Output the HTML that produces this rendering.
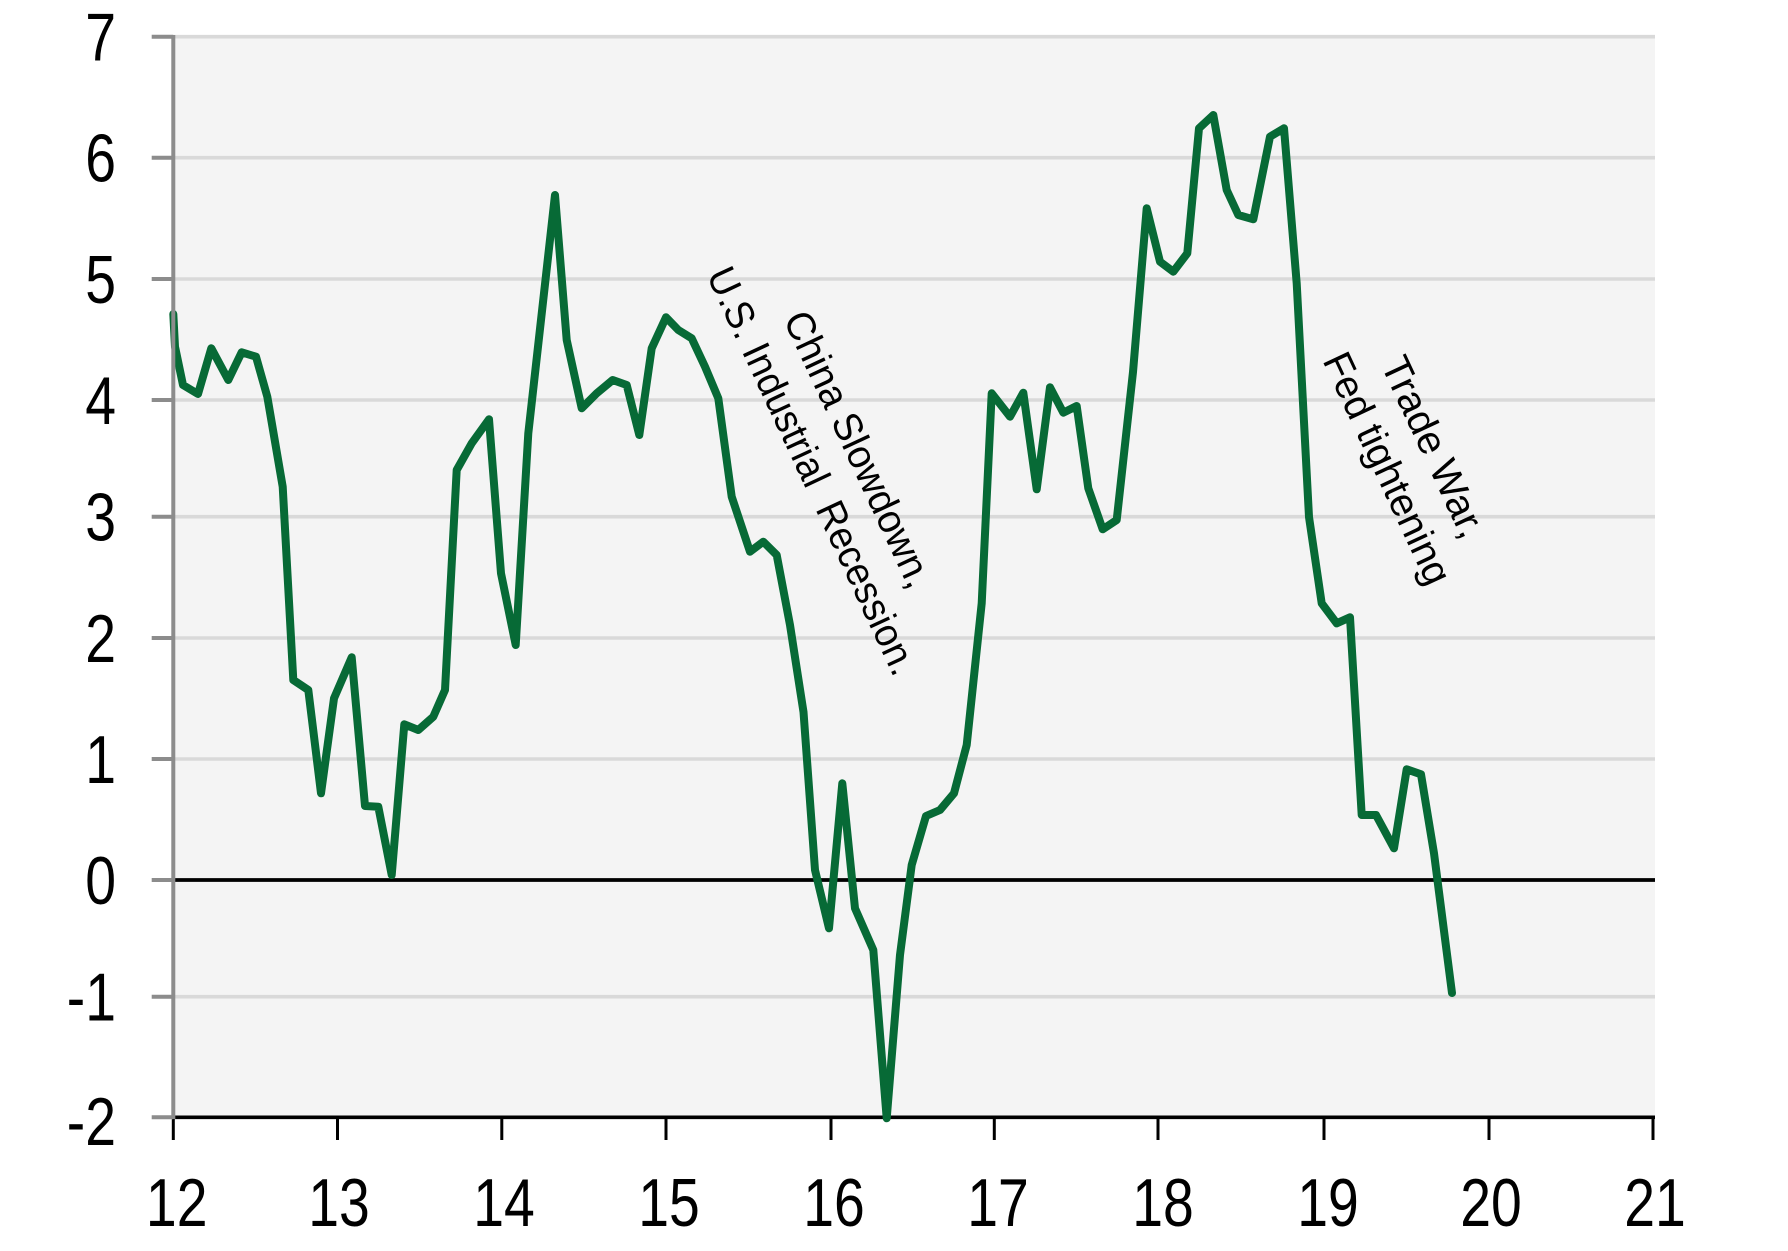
<!DOCTYPE html>
<html>
<head>
<meta charset="utf-8">
<style>
  html, body { margin: 0; padding: 0; background: #ffffff; }
  svg { display: block; }
  .lbl { font-family: "Liberation Sans", Arial, sans-serif; font-size: 67.5px; fill: #000; }
  .ann { font-family: "Liberation Sans", Arial, sans-serif; font-size: 40px; fill: #000; }
</style>
</head>
<body>
<svg width="1788" height="1251" viewBox="0 0 1788 1251" xmlns="http://www.w3.org/2000/svg">
  <rect x="0" y="0" width="1788" height="1251" fill="#ffffff"/>
  <!-- plot background -->
  <rect x="173.3" y="36.7" width="1481.7" height="1080.6" fill="#f4f4f4"/>

  <!-- gridlines -->
  <g stroke="#d9d9d9" stroke-width="3.6">
    <line x1="173.3" y1="36.7" x2="1655" y2="36.7"/>
    <line x1="173.3" y1="157.7" x2="1655" y2="157.7"/>
    <line x1="173.3" y1="279" x2="1655" y2="279"/>
    <line x1="173.3" y1="400" x2="1655" y2="400"/>
    <line x1="173.3" y1="516.7" x2="1655" y2="516.7"/>
    <line x1="173.3" y1="638" x2="1655" y2="638"/>
    <line x1="173.3" y1="759" x2="1655" y2="759"/>
    <line x1="173.3" y1="996.7" x2="1655" y2="996.7"/>
  </g>

  <!-- zero line -->
  <line x1="173.3" y1="880" x2="1655" y2="880" stroke="#000" stroke-width="3.7"/>

  <!-- x axis -->
  <line x1="173.3" y1="1117.3" x2="1655" y2="1117.3" stroke="#000" stroke-width="3.7"/>
  <g stroke="#000" stroke-width="3">
    <line x1="173.3" y1="1117" x2="173.3" y2="1140"/>
    <line x1="337.5" y1="1117" x2="337.5" y2="1140"/>
    <line x1="501.8" y1="1117" x2="501.8" y2="1140"/>
    <line x1="666" y1="1117" x2="666" y2="1140"/>
    <line x1="831" y1="1117" x2="831" y2="1140"/>
    <line x1="994.3" y1="1117" x2="994.3" y2="1140"/>
    <line x1="1158" y1="1117" x2="1158" y2="1140"/>
    <line x1="1324" y1="1117" x2="1324" y2="1140"/>
    <line x1="1489" y1="1117" x2="1489" y2="1140"/>
    <line x1="1653" y1="1117" x2="1653" y2="1140"/>
  </g>

  <!-- series -->
  <polyline fill="none" stroke="#076a36" stroke-width="8" stroke-linejoin="round" stroke-linecap="round"
    points="173.3,314 175,346.7 183,385 198,394 211.3,348.3 228.3,380 241.7,352.3 256,356.7 267.3,396.7 282.7,486.7 293.3,680 308.3,690 321,793.3 334,698.3 351.7,657.3 365,806 378.3,806.7 391.7,875 404.3,724.3 418.3,730 433.3,716.7 445,690 456.7,470 471.7,443.3 489,419.3 501,573.3 515.7,645 528.3,433.3 555,195 566.7,340 581.7,408.3 596.7,393.3 612.7,380 626.7,385 639.3,435 651.7,348.3 666,317.3 678.3,330 691.7,338.3 705,366.7 718.3,398.3 731.7,496.7 750,551.7 763.3,541.7 776.7,555 790,625 803.5,712 815,870 829,928.3 842.3,783.3 855,908.3 873.3,950 886.7,1118.3 900,955 911.7,865 926,816 940,810 954,793.3 966.7,745 981.7,603.3 991.7,393.3 1010,416.7 1023.3,392.7 1036.7,489.3 1050,387.3 1063.3,412.7 1076.7,406 1088.3,488.3 1102.7,529.3 1116.7,520 1133,372 1146.7,208.3 1160,261.7 1173.3,271.7 1187.3,253.3 1199,128.3 1213.3,115 1226.7,190 1238.3,215 1253.3,219.3 1270,136.7 1284,128.3 1296.7,283.3 1309,517 1321.7,603.3 1336.7,623.3 1350,617.3 1361.7,815 1376,815 1394,848.3 1406.7,769.3 1421,774.3 1434,853.3 1452,993"/>

  <!-- y axis -->
  <line x1="173.3" y1="35" x2="173.3" y2="1119" stroke="#8c8c8c" stroke-width="4"/>
  <g stroke="#8c8c8c" stroke-width="4">
    <line x1="151.7" y1="36.7" x2="173.3" y2="36.7"/>
    <line x1="151.7" y1="157.7" x2="173.3" y2="157.7"/>
    <line x1="151.7" y1="279" x2="173.3" y2="279"/>
    <line x1="151.7" y1="400" x2="173.3" y2="400"/>
    <line x1="151.7" y1="516.7" x2="173.3" y2="516.7"/>
    <line x1="151.7" y1="638" x2="173.3" y2="638"/>
    <line x1="151.7" y1="759" x2="173.3" y2="759"/>
    <line x1="151.7" y1="880" x2="173.3" y2="880"/>
    <line x1="151.7" y1="996.7" x2="173.3" y2="996.7"/>
    <line x1="151.7" y1="1117.3" x2="173.3" y2="1117.3"/>
  </g>

  <!-- y labels -->
  <g class="lbl" text-anchor="end">
    <text transform="translate(116,60.7) scale(0.82,1)">7</text>
    <text transform="translate(116,181.7) scale(0.82,1)">6</text>
    <text transform="translate(116,303) scale(0.82,1)">5</text>
    <text transform="translate(116,424) scale(0.82,1)">4</text>
    <text transform="translate(116,540.7) scale(0.82,1)">3</text>
    <text transform="translate(116,662) scale(0.82,1)">2</text>
    <text transform="translate(116,783) scale(0.82,1)">1</text>
    <text transform="translate(116,904) scale(0.82,1)">0</text>
    <text transform="translate(116,1020.7) scale(0.82,1)">-1</text>
    <text transform="translate(116,1145) scale(0.82,1)">-2</text>
  </g>

  <!-- x labels -->
  <g class="lbl" text-anchor="middle">
    <text transform="translate(176.7,1226) scale(0.82,1)">12</text>
    <text transform="translate(339,1226) scale(0.82,1)">13</text>
    <text transform="translate(504,1226) scale(0.82,1)">14</text>
    <text transform="translate(669,1226) scale(0.82,1)">15</text>
    <text transform="translate(834,1226) scale(0.82,1)">16</text>
    <text transform="translate(998,1226) scale(0.82,1)">17</text>
    <text transform="translate(1163,1226) scale(0.82,1)">18</text>
    <text transform="translate(1328,1226) scale(0.82,1)">19</text>
    <text transform="translate(1491,1226) scale(0.82,1)">20</text>
    <text transform="translate(1655,1226) scale(0.82,1)">21</text>
  </g>

  <!-- annotations -->
  <g class="ann" text-anchor="middle">
    <text transform="translate(846.3,455) rotate(65)" textLength="300" lengthAdjust="spacingAndGlyphs">China Slowdown,</text>
    <text transform="translate(800.1,476.6) rotate(65)" textLength="445" lengthAdjust="spacingAndGlyphs">U.S. Industrial&#160; Recession.</text>
    <text transform="translate(1421.4,452.6) rotate(65)" textLength="195" lengthAdjust="spacingAndGlyphs">Trade War,</text>
    <text transform="translate(1375.2,474) rotate(65)" textLength="251" lengthAdjust="spacingAndGlyphs">Fed tightening</text>
  </g>
</svg>
</body>
</html>
